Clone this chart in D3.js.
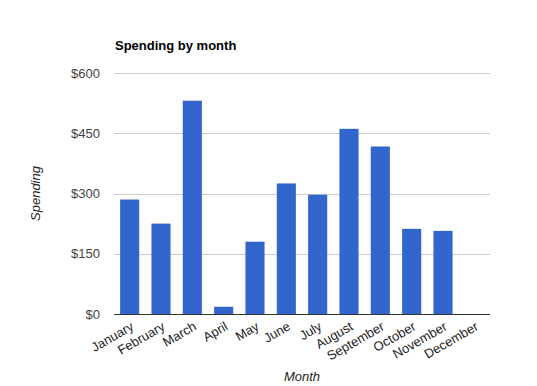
<!DOCTYPE html>
<html>
<head>
<meta charset="utf-8">
<script src="https://cdn.jsdelivr.net/npm/d3@7"></script>
<style>
  body { margin: 0; background: #fff; }
  text { font-family: Arial, "Liberation Sans", sans-serif; }
</style>
</head>
<body>
<svg id="chart" width="537" height="386"></svg>
<script>
var months = ["January", "February", "March", "April", "May", "June",
              "July", "August", "September", "October", "November", "December"];
var spending = [285, 225, 531, 18, 180, 325, 297, 461, 417, 212, 207, 0];
var yTicks = [0, 150, 300, 450, 600];

var margin = {top: 73, left: 114, right: 47, bottom: 72};
var width = 537 - margin.left - margin.right,
    height = 386 - margin.top - margin.bottom;

var svg = d3.select("#chart");
var g = svg.append("g")
    .attr("transform", "translate(" + margin.left + "," + margin.top + ")");

var x = d3.scaleBand()
    .domain(months)
    .range([0, width])
    .paddingInner(0.39)
    .paddingOuter(0.195);

var y = d3.scaleLinear()
    .domain([0, 600])
    .range([height, 0]);

// gridlines
g.selectAll(".grid")
  .data(yTicks)
  .enter().append("line")
    .attr("x1", 0)
    .attr("x2", width)
    .attr("y1", function(d) { return Math.round(y(d)) + 0.5; })
    .attr("y2", function(d) { return Math.round(y(d)) + 0.5; })
    .attr("stroke", "#cccccc");

// y labels
g.selectAll(".ylab")
  .data(yTicks)
  .enter().append("text")
    .attr("x", -14)
    .attr("y", function(d) { return y(d); })
    .attr("dy", "0.35em")
    .attr("text-anchor", "end")
    .attr("font-size", 13)
    .attr("fill", "#444")
    .text(function(d) { return "$" + d; });

// bars
g.selectAll(".bar")
  .data(spending)
  .enter().append("rect")
    .attr("x", function(d, i) { return x(months[i]); })
    .attr("y", function(d) { return y(d); })
    .attr("width", x.bandwidth())
    .attr("height", function(d) { return height - y(d); })
    .attr("fill", "#3366cc");

// baseline
g.append("line")
    .attr("x1", 0).attr("x2", width)
    .attr("y1", Math.round(y(0)) + 0.5).attr("y2", Math.round(y(0)) + 0.5)
    .attr("stroke", "#333");

// x labels, rotated
g.selectAll(".xlab")
  .data(months)
  .enter().append("text")
    .attr("transform", function(d) {
      return "translate(" + (x(d) + x.bandwidth() / 2 + 5) + "," + (height + 15) + ") rotate(-30)";
    })
    .attr("text-anchor", "end")
    .attr("font-size", 13)
    .attr("fill", "#222")
    .text(function(d) { return d; });

// title
svg.append("text")
    .attr("x", 115)
    .attr("y", 50)
    .attr("font-size", 13)
    .attr("font-weight", "bold")
    .attr("fill", "#000")
    .text("Spending by month");

// axis titles
svg.append("text")
    .attr("transform", "translate(40," + (margin.top + height / 2) + ") rotate(-90)")
    .attr("text-anchor", "middle")
    .attr("font-size", 13)
    .attr("font-style", "italic")
    .attr("fill", "#222")
    .text("Spending");

svg.append("text")
    .attr("x", margin.left + width / 2)
    .attr("y", 381)
    .attr("text-anchor", "middle")
    .attr("font-size", 13)
    .attr("font-style", "italic")
    .attr("fill", "#222")
    .text("Month");
</script>
</body>
</html>
